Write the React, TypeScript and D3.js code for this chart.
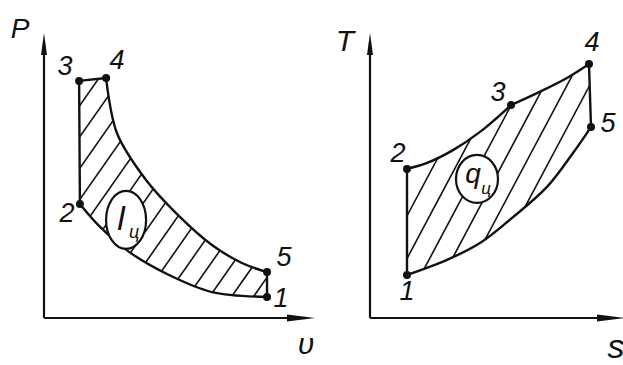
import React from "react";
import * as d3 from "d3";

// ---- P-v diagram (arbitrary units 0..100) ----
const pvLabels = ["1", "2", "3", "4", "5"];
const pvV = [82.6, 13.3, 13.0, 23.0, 82.6];
const pvP = [7.4, 40.0, 83.2, 84.2, 16.1];
// expansion 4 -> 5
const pvExpV = [27.0, 37.8, 48.9, 62.2, 73.3];
const pvExpP = [64.9, 48.4, 36.8, 25.6, 19.3];
// compression 1 -> 2
const pvCompV = [62.2, 46.3, 31.5, 20.4];
const pvCompP = [9.1, 15.1, 23.2, 32.3];

// ---- T-s diagram (arbitrary units 0..100) ----
const tsLabels = ["1", "2", "3", "4", "5"];
const tsS = [14.8, 14.8, 56.4, 87.6, 88.4];
const tsT = [15.1, 52.3, 74.7, 89.1, 67.0];
// 2 -> 3
const ts23S = [22.8, 33.2, 44.0];
const ts23T = [54.4, 58.9, 65.3];
// 3 -> 4
const ts34S = [66.8, 78.8];
const ts34T = [78.9, 84.2];
// 5 -> 1 (heat rejection)
const ts51S = [81.2, 70.8, 57.2, 44.0, 30.8];
const ts51T = [57.9, 46.0, 35.4, 26.3, 20.4];

// label offsets (px) around state points
const pvLabelDx = [14, -13, -14, 11, 17];
const pvLabelDy = [1, 9, -15, -18, -15];
const tsLabelDx = [0, -9, -13, 3, 17];
const tsLabelDy = [16, -16, -13, -22, -4];

const W = 623;
const H = 365;
const INK = "#111";
const FONT = "'Liberation Sans', 'DejaVu Sans', sans-serif";

type Pt = [number, number];

const zip = (a: number[], b: number[]): [number, number][] => a.map((v, i) => [v, b[i]]);

// joins several curve pieces into one closed path
function joinPath(pieces: Pt[][], curved: boolean[]) {
  let d = "";
  pieces.forEach((pts, i) => {
    const gen = d3.line().curve(curved[i] ? d3.curveCatmullRom.alpha(0.5) : d3.curveLinear);
    let s = gen(pts) || "";
    if (i > 0) s = "L" + s.slice(1);
    d += s;
  });
  return d + "Z";
}

function hatchLines(angleDeg: number, spacing: number) {
  const a = (angleDeg * Math.PI) / 180;
  const dir: Pt = [Math.cos(a), -Math.sin(a)];
  const nrm: Pt = [Math.sin(a), Math.cos(a)];
  const out: [Pt, Pt][] = [];
  const L = 900;
  for (let k = -40; k <= 40; k++) {
    const cx = W / 2 + nrm[0] * k * spacing;
    const cy = H / 2 + nrm[1] * k * spacing;
    out.push([
      [cx - dir[0] * L, cy - dir[1] * L],
      [cx + dir[0] * L, cy + dir[1] * L],
    ]);
  }
  return out;
}

function Axes({ x0, y0, xEnd, yTop }: { x0: number; y0: number; xEnd: number; yTop: number }) {
  return (
    <g>
      <line x1={x0} y1={y0} x2={x0} y2={yTop + 10} stroke={INK} strokeWidth={2.2} />
      <path d={`M${x0},${yTop} L${x0 - 3},${yTop + 22} L${x0 + 3},${yTop + 22} Z`} fill={INK} />
      <line x1={x0} y1={y0} x2={xEnd - 10} y2={y0} stroke={INK} strokeWidth={2.2} />
      <path d={`M${xEnd},${y0} L${xEnd - 28},${y0 - 3.5} L${xEnd - 28},${y0 + 3.5} Z`} fill={INK} />
    </g>
  );
}

export default function App() {
  // P-v scales
  const xPv = d3.scaleLinear().domain([0, 100]).range([44, 314]);
  const yPv = d3.scaleLinear().domain([0, 100]).range([318, 33]);
  // T-s scales
  const xTs = d3.scaleLinear().domain([0, 100]).range([370, 620]);
  const yTs = d3.scaleLinear().domain([0, 100]).range([318, 33]);

  const pvPts: Pt[] = zip(pvV, pvP).map(([v, p]) => [xPv(v), yPv(p)]);
  const tsPts: Pt[] = zip(tsS, tsT).map(([s, t]) => [xTs(s), yTs(t)]);
  const mapPv = (a: number[], b: number[]): Pt[] => zip(a, b).map(([v, p]) => [xPv(v), yPv(p)]);
  const mapTs = (a: number[], b: number[]): Pt[] => zip(a, b).map(([s, t]) => [xTs(s), yTs(t)]);

  // cycle 1-2 (curve), 2-3, 3-4, 4-5 (curve), 5-1
  const pvPath = joinPath(
    [
      [pvPts[0], ...mapPv(pvCompV, pvCompP), pvPts[1]],
      [pvPts[1], pvPts[2], pvPts[3]],
      [pvPts[3], ...mapPv(pvExpV, pvExpP), pvPts[4]],
      [pvPts[4], pvPts[0]],
    ],
    [true, false, true, false]
  );

  // cycle 1-2, 2-3 (curve), 3-4 (curve), 4-5, 5-1 (curve)
  const tsPath = joinPath(
    [
      [tsPts[0], tsPts[1]],
      [tsPts[1], ...mapTs(ts23S, ts23T), tsPts[2]],
      [tsPts[2], ...mapTs(ts34S, ts34T), tsPts[3]],
      [tsPts[3], tsPts[4]],
      [tsPts[4], ...mapTs(ts51S, ts51T), tsPts[0]],
    ],
    [false, true, true, false, true]
  );

  const pvHatch = hatchLines(55, 18);
  const tsHatch = hatchLines(62, 20);

  const pvCircle = { cx: xPv(30.4), cy: yPv(34.4) };
  const tsCircle = { cx: xTs(42.8), cy: yTs(48.8) };

  return (
    <svg width={W} height={H} style={{ position: "absolute", left: 0, top: 0, background: "#fff" }}>
      <defs>
        <clipPath id="clipPv">
          <path d={pvPath} />
        </clipPath>
        <clipPath id="clipTs">
          <path d={tsPath} />
        </clipPath>
      </defs>
      <rect width={W} height={H} fill="#fff" />

      {/* ---------- P-v ---------- */}
      <Axes x0={xPv.range()[0]} y0={yPv.range()[0]} xEnd={xPv.range()[1] + 1} yTop={yPv.range()[1]} />
      <g clipPath="url(#clipPv)">
        {pvHatch.map((l, i) => (
          <line key={i} x1={l[0][0]} y1={l[0][1]} x2={l[1][0]} y2={l[1][1]} stroke={INK} strokeWidth={1.6} />
        ))}
      </g>
      <path d={pvPath} fill="none" stroke={INK} strokeWidth={2.4} strokeLinejoin="round" />
      <ellipse cx={pvCircle.cx} cy={pvCircle.cy} rx={20} ry={29} fill="#fff" stroke={INK} strokeWidth={2.2} />
      <text x={pvCircle.cx - 5} y={pvCircle.cy + 10} fontFamily={FONT} fontStyle="italic" fontSize={34} fill={INK} textAnchor="middle">
        l
      </text>
      <text x={pvCircle.cx + 8} y={pvCircle.cy + 18} fontFamily={FONT} fontStyle="italic" fontSize={18} fill={INK} textAnchor="middle">
        ц
      </text>
      {pvPts.map((p, i) => (
        <g key={i}>
          <circle cx={p[0]} cy={p[1]} r={4} fill={INK} />
          <text
            x={p[0] + pvLabelDx[i]}
            y={p[1] + pvLabelDy[i]}
            fontFamily={FONT}
            fontStyle="italic"
            fontSize={27}
            fill={INK}
            textAnchor="middle"
            dominantBaseline="central"
          >
            {pvLabels[i]}
          </text>
        </g>
      ))}
      <text x={20} y={28} fontFamily={FONT} fontStyle="italic" fontSize={28} fill={INK} textAnchor="middle" dominantBaseline="central">
        P
      </text>
      <text x={306} y={343} fontFamily={FONT} fontStyle="italic" fontSize={30} fill={INK} textAnchor="middle" dominantBaseline="central">
        υ
      </text>

      {/* ---------- T-s ---------- */}
      <Axes x0={xTs.range()[0]} y0={yTs.range()[0]} xEnd={W + 2} yTop={yTs.range()[1]} />
      <g clipPath="url(#clipTs)">
        {tsHatch.map((l, i) => (
          <line key={i} x1={l[0][0]} y1={l[0][1]} x2={l[1][0]} y2={l[1][1]} stroke={INK} strokeWidth={1.6} />
        ))}
      </g>
      <path d={tsPath} fill="none" stroke={INK} strokeWidth={2.4} strokeLinejoin="round" />
      <ellipse cx={tsCircle.cx} cy={tsCircle.cy} rx={21} ry={24} fill="#fff" stroke={INK} strokeWidth={2.2} />
      <text x={tsCircle.cx - 4} y={tsCircle.cy + 4} fontFamily={FONT} fontStyle="italic" fontSize={28} fill={INK} textAnchor="middle">
        q
      </text>
      <text x={tsCircle.cx + 9} y={tsCircle.cy + 15} fontFamily={FONT} fontStyle="italic" fontSize={17} fill={INK} textAnchor="middle">
        ц
      </text>
      {tsPts.map((p, i) => (
        <g key={i}>
          <circle cx={p[0]} cy={p[1]} r={4} fill={INK} />
          <text
            x={p[0] + tsLabelDx[i]}
            y={p[1] + tsLabelDy[i]}
            fontFamily={FONT}
            fontStyle="italic"
            fontSize={27}
            fill={INK}
            textAnchor="middle"
            dominantBaseline="central"
          >
            {tsLabels[i]}
          </text>
        </g>
      ))}
      <text x={345} y={40} fontFamily={FONT} fontStyle="italic" fontSize={30} fill={INK} textAnchor="middle" dominantBaseline="central">
        T
      </text>
      <text x={616} y={346} fontFamily={FONT} fontStyle="italic" fontSize={34} fill={INK} textAnchor="middle" dominantBaseline="central">
        s
      </text>
    </svg>
  );
}
